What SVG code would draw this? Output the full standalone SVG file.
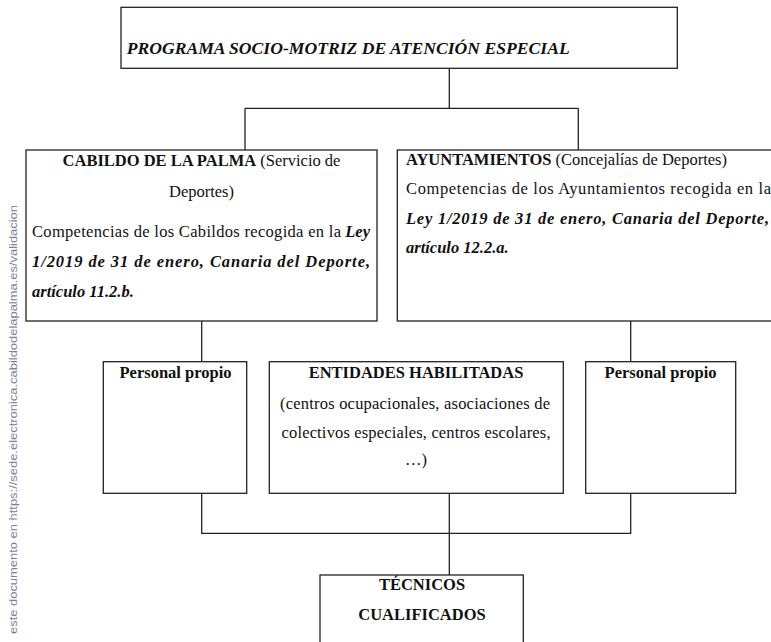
<svg xmlns="http://www.w3.org/2000/svg" width="771" height="642" viewBox="0 0 771 642">
<style>
.box{fill:#fff;stroke:#222;stroke-width:1.3}
.ln{fill:none;stroke:#222;stroke-width:1.3}
.t text, text.t{font-family:"Liberation Serif","Tinos","Times New Roman","DejaVu Serif",serif;font-size:16.5px;fill:#111}
.b{font-weight:bold}
.bi{font-weight:bold;font-style:italic}
.c{text-anchor:middle}
.wm{font-family:"Liberation Sans",Arial,sans-serif;font-size:10.5px;fill:#7a8296}
</style>
<rect width="771" height="642" fill="#fff"/>
<text class="wm" transform="translate(17,634) rotate(-90)" x="0" y="0" textLength="429" lengthAdjust="spacingAndGlyphs">este documento en https://sede.electronica.cabildodelapalma.es/validacion</text>
<g id="connectors">
<path class="ln" d="M449.3,68.3V108.3M245,108.3H578.3M245,108.3V150M578.3,108.3V150"/>
<path class="ln" d="M201.7,321V361.7M630.7,321V361.7"/>
<path class="ln" d="M201.7,493.3V533.3H630.7V493.3M449.3,493.3V575"/>
</g>
<g id="programa" class="t">
<rect class="box" x="121" y="7.3" width="556.3" height="61"/>
<text class="bi" x="126.7" y="54" style="font-size:17.5px" textLength="443" lengthAdjust="spacingAndGlyphs">PROGRAMA SOCIO-MOTRIZ DE ATENCIÓN ESPECIAL</text>
</g>
<g id="cabildo" class="t">
<rect class="box" x="26" y="150" width="351" height="171"/>
<text class="c" x="201.5" y="166"><tspan class="b">CABILDO DE LA PALMA</tspan> (Servicio de</text>
<text class="c" x="201.5" y="197">Deportes)</text>
<text x="32" y="237" textLength="309" lengthAdjust="spacing">Competencias de los Cabildos recogida en la</text>
<text class="bi" x="370" y="237" style="text-anchor:end">Ley</text>
<text class="bi" x="32" y="266.5" textLength="338" lengthAdjust="spacing">1/2019 de 31 de enero, Canaria del Deporte,</text>
<text class="bi" x="32" y="296.5">artículo 11.2.b.</text>
</g>
<g id="ayuntamientos" class="t">
<rect class="box" x="397.3" y="150" width="380" height="171"/>
<text x="406" y="165"><tspan class="b">AYUNTAMIENTOS</tspan> (Concejalías de Deportes)</text>
<text x="406" y="193.5" textLength="365" lengthAdjust="spacing">Competencias de los Ayuntamientos recogida en la</text>
<text class="bi" x="406" y="223.5" textLength="363" lengthAdjust="spacing">Ley 1/2019 de 31 de enero, Canaria del Deporte,</text>
<text class="bi" x="406" y="253.3">artículo 12.2.a.</text>
</g>
<g id="personal-cabildo" class="t">
<rect class="box" x="103.3" y="361.7" width="143.4" height="131.6"/>
<text class="b c" x="175.5" y="378">Personal propio</text>
</g>
<g id="entidades" class="t">
<rect class="box" x="269.3" y="361.7" width="294" height="131.6"/>
<text class="b c" x="416" y="378">ENTIDADES HABILITADAS</text>
<text x="280" y="409" textLength="270" lengthAdjust="spacing">(centros ocupacionales, asociaciones de</text>
<text x="281.5" y="438" textLength="269" lengthAdjust="spacing">colectivos especiales, centros escolares,</text>
<text class="c" x="416" y="465">…)</text>
</g>
<g id="personal-ayuntamientos" class="t">
<rect class="box" x="585.7" y="361.7" width="150" height="131.6"/>
<text class="b c" x="660.6" y="378">Personal propio</text>
</g>
<g id="tecnicos" class="t">
<rect class="box" x="320" y="575" width="203.3" height="80"/>
<text class="b c" x="422" y="590">TÉCNICOS</text>
<text class="b c" x="422" y="620">CUALIFICADOS</text>
</g>
</svg>
